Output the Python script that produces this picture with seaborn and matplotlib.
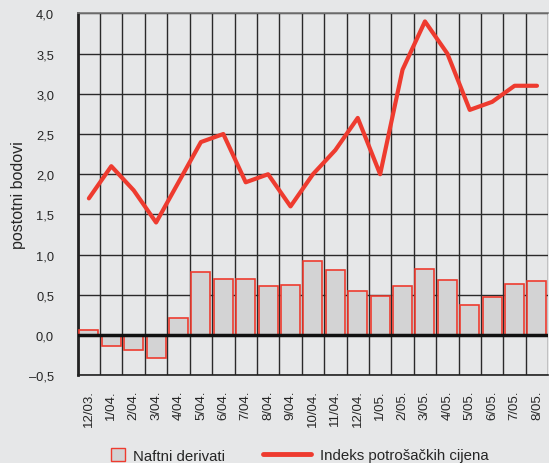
import numpy as np
import pandas as pd
import seaborn as sns
from matplotlib import pyplot as plt
from matplotlib.patches import Patch
from matplotlib.lines import Line2D
from matplotlib.ticker import FuncFormatter, MultipleLocator


MONTHS = ["12/03.", "1/04.", "2/04.", "3/04.", "4/04.", "5/04.", "6/04.", "7/04.",
          "8/04.", "9/04.", "10/04.", "11/04.", "12/04.", "1/05.", "2/05.", "3/05.",
          "4/05.", "5/05.", "6/05.", "7/05.", "8/05."]
NAFTNI = [0.06, -0.14, -0.19, -0.28, 0.21, 0.79, 0.70, 0.70, 0.61, 0.62, 0.92,
          0.81, 0.55, 0.48, 0.61, 0.82, 0.68, 0.38, 0.47, 0.64, 0.67]
IPC = [1.7, 2.1, 1.8, 1.4, 1.9, 2.4, 2.5, 1.9, 2.0, 1.6, 2.0,
       2.3, 2.7, 2.0, 3.3, 3.9, 3.5, 2.8, 2.9, 3.1, 3.1]

BG = "#e6e7e8"
RED = "#ee3b2f"
BAR_FILL = "#d3d3d4"
GRID = "#2a2a2a"

sns.set_style("white")
plt.rcParams["font.family"] = ["Liberation Sans", "DejaVu Sans"]

df = pd.DataFrame({"mjesec": MONTHS, "naftni": NAFTNI, "ipc": IPC})
df["pos"] = np.arange(len(df))

fig = plt.figure(figsize=(5.49, 4.64), dpi=100, facecolor=BG)
ax = fig.add_axes([0.1415, 0.189, 0.857, 0.780])
ax.set_facecolor(BG)

sns.barplot(data=df, x="mjesec", y="naftni", ax=ax, color=BAR_FILL,
            edgecolor=RED, linewidth=1.2, width=0.85, saturation=1, zorder=3)
sns.lineplot(data=df, x="pos", y="ipc", ax=ax, color=RED, linewidth=3,
             zorder=5)
ax.axhline(0, color="#111111", linewidth=2.5, zorder=4)

n = len(MONTHS)
ax.set_xlim(-0.5, n - 0.5)
ax.set_ylim(-0.5, 4.0)

# vertical grid on the category boundaries
ax.set_xticks(np.arange(n))
ax.set_xticklabels(MONTHS, rotation=90, fontsize=9.5)
ax.set_xticks(np.arange(-0.5, n), minor=True)
ax.tick_params(axis="x", which="major", length=0, pad=10)
ax.tick_params(axis="x", which="minor", length=7, width=1, color="#555555", direction="out")
ax.grid(axis="x", which="minor", color=GRID, linewidth=1, zorder=1)

ax.yaxis.set_major_locator(MultipleLocator(0.5))
ax.yaxis.set_major_formatter(FuncFormatter(lambda v, p: f"{v:.1f}".replace(".", ",").replace("-", "\u2013")))
ax.tick_params(axis="y", length=7, width=1, color=GRID, pad=10, labelsize=9.3)
ax.grid(axis="y", which="major", color=GRID, linewidth=1, zorder=1)
ax.set_axisbelow(True)

ax.set_xlabel("")
ax.set_ylabel("postotni bodovi", fontsize=11.5, labelpad=2)

for side in ["right"]:
    ax.spines[side].set_visible(False)
ax.spines["top"].set_color("#777777")
ax.spines["top"].set_linewidth(1.2)
ax.spines["left"].set_color("#222222")
ax.spines["left"].set_linewidth(2)
ax.spines["bottom"].set_color("#222222")
ax.spines["bottom"].set_linewidth(1.2)

# two legends so each handle keeps its own length
leg1 = fig.legend(handles=[Patch(facecolor=BAR_FILL, edgecolor=RED, linewidth=1)],
                  labels=["Naftni derivati"], loc="center left",
                  bbox_to_anchor=(0.1775, 0.017), frameon=False, fontsize=10.8,
                  handlelength=0.95, handleheight=1.05, handletextpad=0.55)
leg2 = fig.legend(handles=[Line2D([], [], color=RED, linewidth=3.5)],
                  labels=["Indeks potrošačkih cijena"], loc="center left",
                  bbox_to_anchor=(0.455, 0.017), frameon=False, fontsize=10.8,
                  handlelength=3.2, handletextpad=0.55)

fig.savefig("out.png", dpi=100, facecolor=BG)
